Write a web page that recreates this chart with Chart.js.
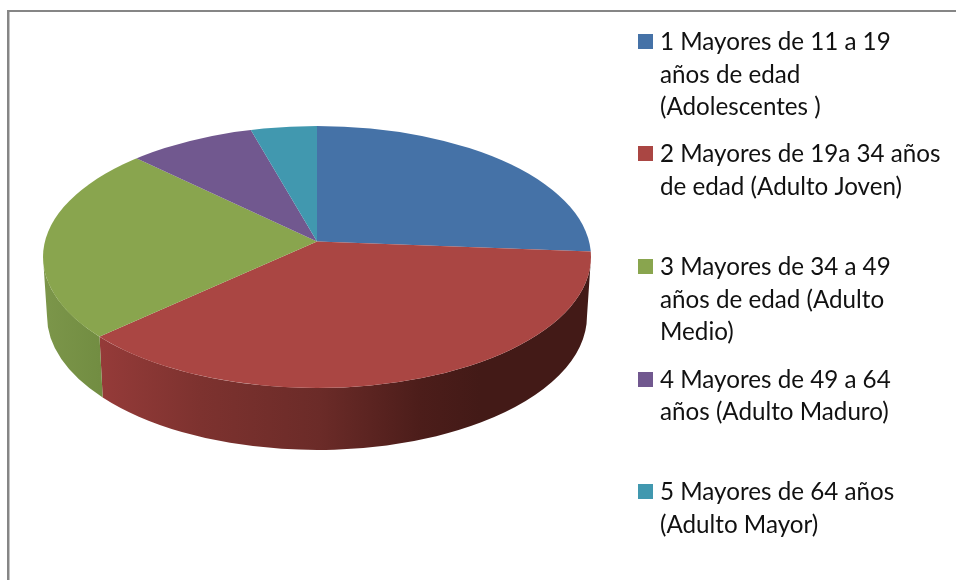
<!DOCTYPE html>
<html lang="es">
<head>
<meta charset="utf-8">
<title>Grupos de edad</title>
<script src="https://cdn.jsdelivr.net/npm/chart.js@4"></script>
<style>
html,body{margin:0;padding:0;background:#fff;}
canvas{display:block;}
</style>
</head>
<body>
<canvas id="c" width="956" height="580"></canvas>
<script>
const categories = [
  "1 Mayores de 11 a 19 años de edad (Adolescentes )",
  "2 Mayores de 19a 34 años de edad (Adulto Joven)",
  "3 Mayores de 34 a 49 años de edad (Adulto Medio)",
  "4 Mayores de 49 a 64 años (Adulto Maduro)",
  "5 Mayores de 64 años (Adulto Mayor)"
];
const values = [26.2, 37, 24, 8.4, 4.4];
const colors = ["#4572A7", "#AA4643", "#89A54E", "#71588F", "#4198AF"];
const legendLines = [
  ["1 Mayores de 11 a 19", "años de edad", "(Adolescentes )"],
  ["2 Mayores de 19a 34 años", "de edad (Adulto Joven)"],
  ["3 Mayores de 34 a 49", "años de edad (Adulto", "Medio)"],
  ["4 Mayores de 49 a 64", "años (Adulto Maduro)"],
  ["5 Mayores de 64 años", "(Adulto Mayor)"]
];
const legendBaselines = [[50, 82.5, 115], [162, 195], [275, 308, 340], [388, 420], [500, 533]];
const sideStops = {
  1: [[100, "#953b39"], [200, "#7d322f"], [320, "#6b2b28"], [420, "#4c1d1a"], [480, "#431a17"], [591, "#431a17"]],
  2: [[43, "#7c964a"], [100, "#728d42"]]
};

const apex = {x: 317, y: 241.5};
const topE = {x: 317, y: 257, rx: 274, ry: 131};
const botE = {x: 317, y: 316, rx: 270, ry: 134};
const SX = 1.2, SY = 1.2 * 0.478;

function edgeParam(angle) {
  // ray from the apex along the arc angle, meeting the top ellipse; returns the ellipse parameter
  const dx = SX * Math.cos(angle) / topE.rx, dy = SY * Math.sin(angle) / topE.ry;
  const ox = (apex.x - topE.x) / topE.rx, oy = (apex.y - topE.y) / topE.ry;
  const a = dx * dx + dy * dy, b = 2 * (ox * dx + oy * dy), c = ox * ox + oy * oy - 1;
  const k = (-b + Math.sqrt(b * b - 4 * a * c)) / (2 * a);
  return Math.atan2(oy + k * dy, ox + k * dx);
}

const pie3d = {
  id: "pie3d",
  beforeDraw(chart) {
    const g = chart.ctx;
    g.save();
    g.fillStyle = "#ffffff";
    g.fillRect(0, 0, 956, 580);
    g.fillStyle = "#868686";
    g.fillRect(7, 10, 949, 2);
    g.fillRect(7, 10, 2, 570);
    g.fillStyle = "#c4c4c4";
    g.fillRect(9, 12, 1, 568);
    g.restore();
  },
  beforeDatasetsDraw(chart) {
    const g = chart.ctx;
    const arcs = chart.getDatasetMeta(0).data;
    // sides
    arcs.forEach((arc, i) => {
      let t0 = edgeParam(arc.startAngle), t1 = edgeParam(arc.endAngle);
      if (t1 < t0) t1 += Math.PI * 2;
      const segs = [[t0, t1], [t0 - 2 * Math.PI, t1 - 2 * Math.PI]];
      segs.forEach(([a, b]) => {
        const s = Math.max(a, 0), e = Math.min(b, Math.PI);
        if (e <= s) return;
        const stops = sideStops[i] || [[0, colors[i]], [956, colors[i]]];
        const x0 = stops[0][0], x1 = stops[stops.length - 1][0];
        const grad = g.createLinearGradient(x0, 0, x1, 0);
        stops.forEach(p => grad.addColorStop((p[0] - x0) / (x1 - x0), p[1]));
        g.save();
        g.beginPath();
        g.ellipse(topE.x, topE.y, topE.rx, topE.ry, 0, s, e, false);
        g.ellipse(botE.x, botE.y, botE.rx, botE.ry, 0, e, s, true);
        g.closePath();
        g.fillStyle = grad;
        g.fill();
        g.restore();
      });
    });
    // top face: the library's arcs, tilted and clipped to the ellipse
    g.save();
    g.beginPath();
    g.ellipse(topE.x, topE.y, topE.rx, topE.ry, 0, 0, Math.PI * 2);
    g.clip();
    const c = arcs[0];
    g.translate(apex.x, apex.y);
    g.scale(SX, SY);
    g.translate(-c.x, -c.y);
  },
  afterDatasetsDraw(chart) {
    chart.ctx.restore();
  },
  afterDraw(chart) {
    const g = chart.ctx;
    g.save();
    g.font = "24.2px Lato, Carlito, Calibri, sans-serif";
    g.textBaseline = "alphabetic";
    legendLines.forEach((lines, i) => {
      const first = legendBaselines[i][0];
      g.fillStyle = colors[i];
      g.fillRect(638, first - 16, 15, 15);
      g.fillStyle = "#111111";
      lines.forEach((t, j) => g.fillText(t, 660, legendBaselines[i][j]));
    });
    g.restore();
  }
};

new Chart(document.getElementById("c"), {
  type: "pie",
  data: {
    labels: categories,
    datasets: [{data: values, backgroundColor: colors, borderWidth: 0}]
  },
  options: {
    responsive: false,
    animation: false,
    events: [],
    layout: {padding: 0},
    plugins: {legend: {display: false}, tooltip: {enabled: false}, title: {display: false}}
  },
  plugins: [pie3d]
});
</script>
</body>
</html>
